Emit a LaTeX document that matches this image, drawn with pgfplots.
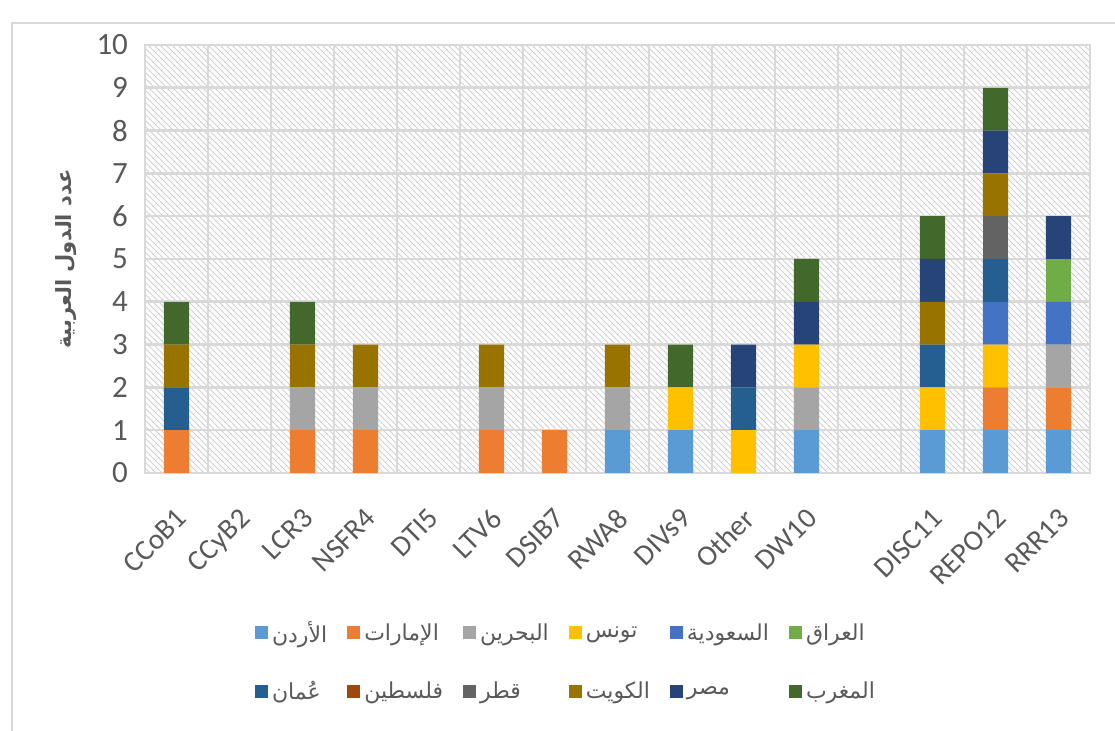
\documentclass[border=0pt]{standalone}
\usepackage{fontspec}
\setmainfont{Carlito}
\newfontfamily\arabicfont[Script=Arabic]{DejaVu Sans}
\TeXXeTstate=1
\usepackage{pgfplots}
\pgfplotsset{compat=1.18}
\usepackage{pgfplotstable}
\usetikzlibrary{patterns}
\definecolor{cJ}{HTML}{5B9BD5}
\definecolor{cU}{HTML}{ED7D31}
\definecolor{cB}{HTML}{A5A5A5}
\definecolor{cT}{HTML}{FFC000}
\definecolor{cS}{HTML}{4472C4}
\definecolor{cI}{HTML}{70AD47}
\definecolor{cO}{HTML}{255E91}
\definecolor{cP}{HTML}{9E480E}
\definecolor{cQ}{HTML}{636363}
\definecolor{cK}{HTML}{997300}
\definecolor{cE}{HTML}{264478}
\definecolor{cM}{HTML}{43682B}
\definecolor{txt}{HTML}{595959}
\definecolor{grd}{HTML}{D9D9D9}
\newcommand{\ar}[1]{{\arabicfont\beginR #1\endR}}
\pgfplotstableread{
x J U B T S I O P Q K E M
0 0 1 0 0 0 0 1 0 0 1 0 1
1 0 0 0 0 0 0 0 0 0 0 0 0
2 0 1 1 0 0 0 0 0 0 1 0 1
3 0 1 1 0 0 0 0 0 0 1 0 0
4 0 0 0 0 0 0 0 0 0 0 0 0
5 0 1 1 0 0 0 0 0 0 1 0 0
6 0 1 0 0 0 0 0 0 0 0 0 0
7 1 0 1 0 0 0 0 0 0 1 0 0
8 1 0 0 1 0 0 0 0 0 0 0 1
9 0 0 0 1 0 0 1 0 0 0 1 0
10 1 0 1 1 0 0 0 0 0 0 1 1
11 0 0 0 0 0 0 0 0 0 0 0 0
12 1 0 0 1 0 0 1 0 0 1 1 1
13 1 1 0 1 1 0 1 0 1 1 1 1
14 1 1 1 0 1 1 0 0 0 0 1 0
}\data
\begin{document}
\begin{tikzpicture}
\useasboundingbox (0,0) rectangle (557.5pt,365.5pt);
\draw[grd, line width=1.2pt] (6pt,0) -- (6pt,354pt) -- (560pt,354pt);
\begin{axis}[
  at={(72.5pt,129pt)}, anchor=south west,
  scale only axis, width=472.5pt, height=214pt,
  ybar stacked, bar width=0.4,
  xmin=-0.5, xmax=14.5, ymin=0, ymax=10,
  xtick={0,...,14},
  xticklabels={CCoB1,CCyB2,LCR3,NSFR4,DTI5,LTV6,DSIB7,RWA8,DIVs9,Other,DW10,{},DISC11,REPO12,RRR13},
  minor xtick={-0.5,0.5,...,14.5},
  ytick={0,...,10},
  xmajorgrids=false, xminorgrids=true, ymajorgrids=true,
  grid style={grd, line width=1.3pt},
  minor grid style={grd, line width=1.3pt},
  axis line style={grd, line width=1.3pt},
  major tick length=0pt, minor tick length=0pt,
  tick style={draw=none},
  axis background/.style={pattern=north west lines, pattern color=black!18},
  /pgf/number format/assume math mode=true,
  ticklabel style={text=txt},
  yticklabel style={xshift=-5pt, font=\fontsize{15.5}{17}\selectfont},
  xticklabel style={rotate=45, anchor=north east, xshift=-9pt, yshift=-8pt, font=\fontsize{14.5}{16}\selectfont},
  ylabel={\arabicfont\beginR عدد الدول العربية\endR},
  ylabel style={at={(axis description cs:-0.083,0.5)}, anchor=center, font=\arabicfont\bfseries\fontsize{10.5}{12}\selectfont, text=txt},
  legend columns=6,
  legend style={at={(0.4466,-0.4416)}, anchor=center, draw=none, fill=none,
    font=\arabicfont\fontsize{11}{13}\selectfont, text=txt,
    /tikz/every even column/.append style={column sep=8pt},
    row sep=14pt},
  legend cell align=left,
  legend image code/.code={\fill[#1] (0pt,-3pt) rectangle (6.5pt,3.5pt);},
]
\addplot[fill=cJ, draw=none] table[x=x,y=J]{\data};
\addplot[fill=cU, draw=none] table[x=x,y=U]{\data};
\addplot[fill=cB, draw=none] table[x=x,y=B]{\data};
\addplot[fill=cT, draw=none] table[x=x,y=T]{\data};
\addplot[fill=cS, draw=none] table[x=x,y=S]{\data};
\addplot[fill=cI, draw=none] table[x=x,y=I]{\data};
\addplot[fill=cO, draw=none] table[x=x,y=O]{\data};
\addplot[fill=cP, draw=none] table[x=x,y=P]{\data};
\addplot[fill=cQ, draw=none] table[x=x,y=Q]{\data};
\addplot[fill=cK, draw=none] table[x=x,y=K]{\data};
\addplot[fill=cE, draw=none] table[x=x,y=E]{\data};
\addplot[fill=cM, draw=none] table[x=x,y=M]{\data};
\legend{\ar{الأردن},\ar{الإمارات},\ar{البحرين},\ar{تونس},\ar{السعودية},\ar{العراق},\ar{عُمان},\ar{فلسطين},\ar{قطر},\ar{الكويت},\ar{مصر},\ar{المغرب}}
\end{axis}
\end{tikzpicture}
\end{document}
